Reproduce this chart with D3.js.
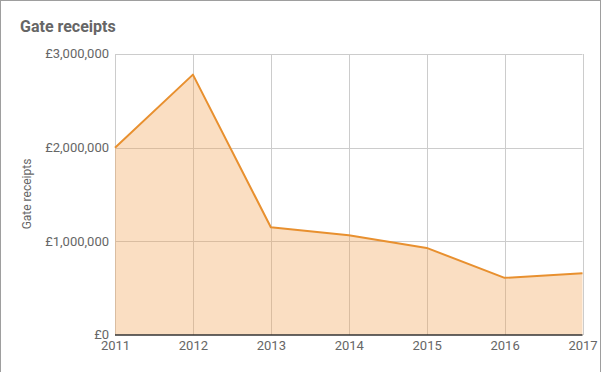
<!DOCTYPE html>
<html><head><meta charset="utf-8">
<script src="https://cdn.jsdelivr.net/npm/d3@7"></script>
<style>html,body{margin:0;padding:0;background:#fff;}svg{display:block;font-family:Roboto,"Open Sans",sans-serif;}</style>
</head><body>
<script>
const years = ["2011","2012","2013","2014","2015","2016","2017"];
const receipts = [2000000, 2780000, 1150000, 1065000, 930000, 610000, 660000];
const yTicks = [0, 1000000, 2000000, 3000000];
const chartTitle = "Gate receipts";
const yAxisTitle = "Gate receipts";

const W = 602, H = 372;
const svg = d3.select("body").append("svg").attr("width", W).attr("height", H);
svg.append("rect").attr("x",0.5).attr("y",0.5).attr("width",600).attr("height",H+10)
  .attr("fill","#fff").attr("stroke","#9e9e9e").attr("stroke-width",1);

const x = d3.scalePoint().domain(years).range([115, 582.5]);
const y = d3.scaleLinear().domain([0, 3000000]).range([335, 54]);

// gridlines
svg.append("g").selectAll("line.h").data(yTicks.slice(1)).join("line")
  .attr("x1",115).attr("x2",582.5).attr("y1",d=>Math.round(y(d))+0.5).attr("y2",d=>Math.round(y(d))+0.5)
  .attr("stroke","#cccccc").attr("stroke-width",1);
svg.append("g").selectAll("line.v").data(years).join("line")
  .attr("x1",d=>Math.round(x(d))+0.5).attr("x2",d=>Math.round(x(d))+0.5).attr("y1",54).attr("y2",335)
  .attr("stroke","#cccccc").attr("stroke-width",1);

const data = years.map((yr,i)=>({yr, v: receipts[i]}));
svg.append("path").datum(data)
  .attr("d", d3.area().x(d=>x(d.yr)).y0(y(0)).y1(d=>y(d.v)))
  .attr("fill","#f0a050").attr("fill-opacity",0.35);
svg.append("path").datum(data)
  .attr("d", d3.line().x(d=>x(d.yr)).y(d=>y(d.v)))
  .attr("fill","none").attr("stroke","#e8902f").attr("stroke-width",2).attr("stroke-linejoin","round");

// baseline
svg.append("line").attr("x1",115).attr("x2",582.5).attr("y1",335).attr("y2",335)
  .attr("stroke","#333").attr("stroke-width",1.5);

// y axis
const fmt = d => "£" + d3.format(",")(d);
const yAxis = d3.axisLeft(y).tickValues(yTicks).tickFormat(fmt).tickSize(0).tickPadding(6);
const gy = svg.append("g").attr("transform","translate(115,0)").call(yAxis);
gy.select(".domain").remove();
gy.selectAll("text").attr("fill","#666").style("font-size","13px").attr("dy","0.3em")
  .attr("font-family","Roboto, sans-serif");

// x axis
const xAxis = d3.axisBottom(x).tickSize(0).tickPadding(6);
const gx = svg.append("g").attr("transform","translate(0,335)").call(xAxis);
gx.select(".domain").remove();
gx.selectAll("text").attr("fill","#666").style("font-size","13px").attr("dy","0.71em")
  .attr("font-family","Roboto, sans-serif");

// titles
svg.append("text").attr("x",20).attr("y",32).text(chartTitle)
  .attr("fill","#666").style("font-size","16px").style("font-weight","bold");
svg.append("text").attr("transform","translate(31,194) rotate(-90)").attr("text-anchor","middle")
  .text(yAxisTitle).attr("fill","#666").style("font-size","12px");
</script>
</body></html>
